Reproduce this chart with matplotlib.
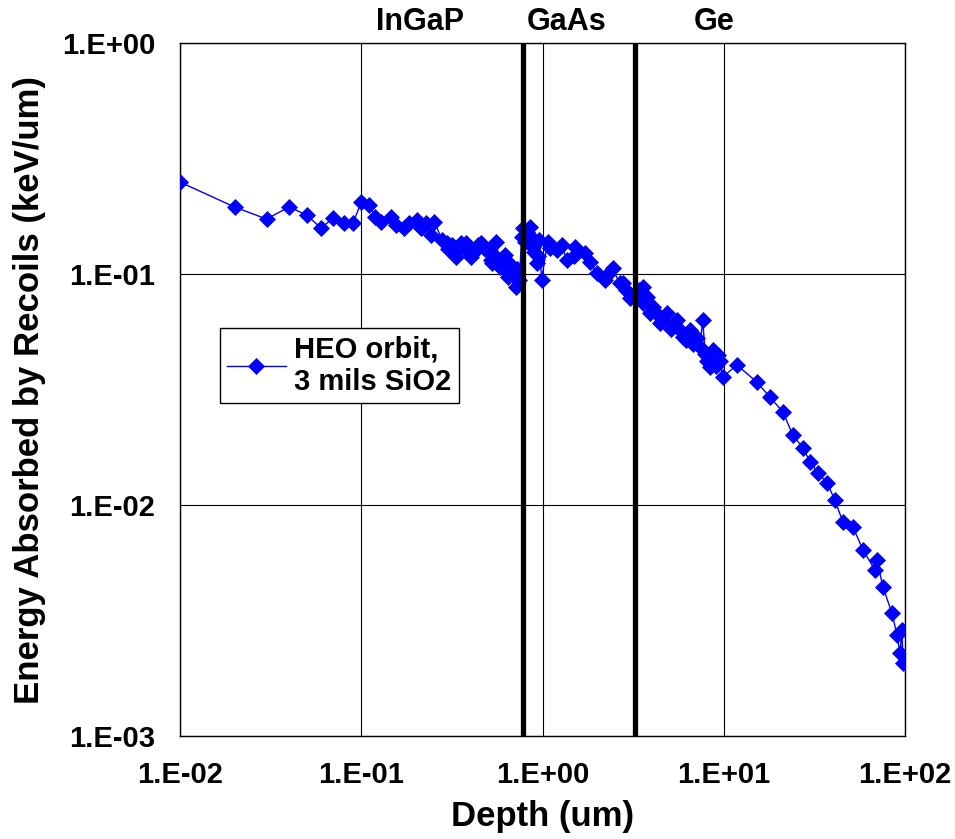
import matplotlib
matplotlib.use("Agg")
import matplotlib.pyplot as plt
import matplotlib.transforms as mtransforms

plt.rcParams["font.family"] = ["Liberation Sans", "DejaVu Sans"]
plt.rcParams["font.weight"] = "bold"

# depth (um) and energy absorbed by recoils (keV/um)
depth = [
    0.010, 0.020, 0.030, 0.040, 0.050, 0.060, 0.070, 0.080, 0.090, 0.100,
    0.111, 0.119, 0.129, 0.146, 0.156, 0.173, 0.184, 0.204, 0.214, 0.229,
    0.244, 0.253, 0.280, 0.299, 0.30, 0.318, 0.33, 0.335, 0.357, 0.37,
    0.380, 0.405, 0.42, 0.438, 0.460, 0.48, 0.509, 0.52, 0.529, 0.55,
    0.557, 0.579, 0.60, 0.617, 0.641, 0.65, 0.674, 0.70, 0.718, 0.72,
    0.746, 0.766, 0.776, 0.80, 0.816, 0.848, 0.86, 0.881, 0.90, 0.927,
    0.94, 0.962, 0.987, 1.066, 1.10, 1.195, 1.273, 1.358, 1.50, 1.502,
    1.706, 1.818, 1.988, 2.20, 2.30, 2.44, 2.66, 2.77, 2.90, 3.03,
    3.26, 3.40, 3.57, 3.60, 3.75, 3.90, 4.05, 4.20, 4.43, 4.60,
    4.84, 5.10, 5.50, 5.70, 5.93, 6.20, 6.49, 6.80, 7.10, 7.37,
    7.65, 7.90, 8.10, 8.37, 8.69, 9.00, 9.27, 9.50, 9.87, 11.8,
    15.2, 17.9, 21.2, 24.0, 27.3, 29.9, 33.0, 37.1, 41.0, 45.4,
    51.6, 58.6, 68.3, 70.0, 75.5, 84.7, 90.3, 93.8, 96.2, 97.5,
]
energy = [
    0.250, 0.195, 0.173, 0.195, 0.180, 0.158, 0.175, 0.166, 0.166, 0.205,
    0.199, 0.177, 0.168, 0.177, 0.163, 0.158, 0.166, 0.171, 0.158, 0.166,
    0.148, 0.168, 0.140, 0.136, 0.128, 0.134, 0.125, 0.119, 0.136, 0.130,
    0.136, 0.119, 0.125, 0.134, 0.136, 0.128, 0.127, 0.115, 0.112, 0.120,
    0.138, 0.107, 0.110, 0.121, 0.097, 0.102, 0.109, 0.098, 0.088, 0.105,
    0.094, 0.145, 0.158, 0.138, 0.152, 0.160, 0.145, 0.131, 0.125, 0.112,
    0.120, 0.140, 0.094, 0.138, 0.130, 0.127, 0.134, 0.115, 0.120, 0.131,
    0.123, 0.113, 0.101, 0.094, 0.100, 0.106, 0.091, 0.091, 0.085, 0.079,
    0.081, 0.085, 0.088, 0.075, 0.0795, 0.0678, 0.072, 0.068, 0.0614, 0.063,
    0.0678, 0.058, 0.0632, 0.057, 0.0534, 0.052, 0.0573, 0.050, 0.053, 0.0483,
    0.0632, 0.045, 0.042, 0.0396, 0.0469, 0.040, 0.0446, 0.042, 0.0358, 0.0404,
    0.0341, 0.0294, 0.0253, 0.0201, 0.0177, 0.0154, 0.0138, 0.0125, 0.0105, 0.00844,
    0.00803, 0.00639, 0.00523, 0.00578, 0.00442, 0.00340, 0.00274, 0.00229, 0.00288, 0.00207,
]

# layer boundaries (um) and layer names
boundaries = [0.776, 3.22]
layer_names = ["InGaP", "GaAs", "Ge"]
layer_label_x = [0.21, 1.36, 8.9]

x_ticks = [0.01, 0.1, 1, 10, 100]
x_tick_labels = ["1.E-02", "1.E-01", "1.E+00", "1.E+01", "1.E+02"]
y_ticks = [0.001, 0.01, 0.1, 1]
y_tick_labels = ["1.E-03", "1.E-02", "1.E-01", "1.E+00"]

fig = plt.figure(figsize=(9.55, 8.39), dpi=100)
ax = fig.add_axes([0.1885, 0.1228, 0.7592, 0.8259])

ax.set_xscale("log")
ax.set_yscale("log")
ax.set_xlim(0.01, 100)
ax.set_ylim(0.001, 1)

ax.plot(depth, energy, color="#0000FF", linewidth=1, marker="D",
        markersize=8.5, markeredgewidth=0.5, label="HEO orbit,\n3 mils SiO2",
        zorder=3)

for b in boundaries:
    ax.axvline(b, color="black", linewidth=3.8, zorder=4)

ax.set_xticks(x_ticks)
ax.set_xticklabels(x_tick_labels)
ax.set_yticks(y_ticks)
ax.set_yticklabels(y_tick_labels)
ax.minorticks_off()
ax.tick_params(axis="both", which="both", length=0, labelsize=21)
ax.tick_params(axis="x", pad=18)
ax.tick_params(axis="y", pad=18)
for lab in ax.get_xticklabels() + ax.get_yticklabels():
    lab.set_fontweight("bold")

ax.grid(True, which="major", color="black", linewidth=0.8)
for s in ax.spines.values():
    s.set_color("black")
    s.set_linewidth(1)

ax.set_xlabel("Depth (um)", fontsize=25, fontweight="bold", labelpad=8)
ax.set_ylabel("Energy Absorbed by Recoils (keV/um)", fontsize=25,
              fontweight="bold", labelpad=11)

trans = mtransforms.blended_transform_factory(ax.transData, ax.transAxes)
for name, lx in zip(layer_names, layer_label_x):
    ax.text(lx, 1.008, name, transform=trans, ha="center", va="bottom",
            fontsize=22, fontweight="bold")

leg = ax.legend(loc="upper left", bbox_to_anchor=(0.055, 0.589),
                fontsize=21, frameon=True, fancybox=False, framealpha=1,
                edgecolor="black", handlelength=2.0, borderpad=0.25,
                handletextpad=0.3, labelspacing=0.1, borderaxespad=0)
leg.get_frame().set_linewidth(1)
for t in leg.get_texts():
    t.set_fontweight("bold")

fig.savefig("out.png", dpi=100)
